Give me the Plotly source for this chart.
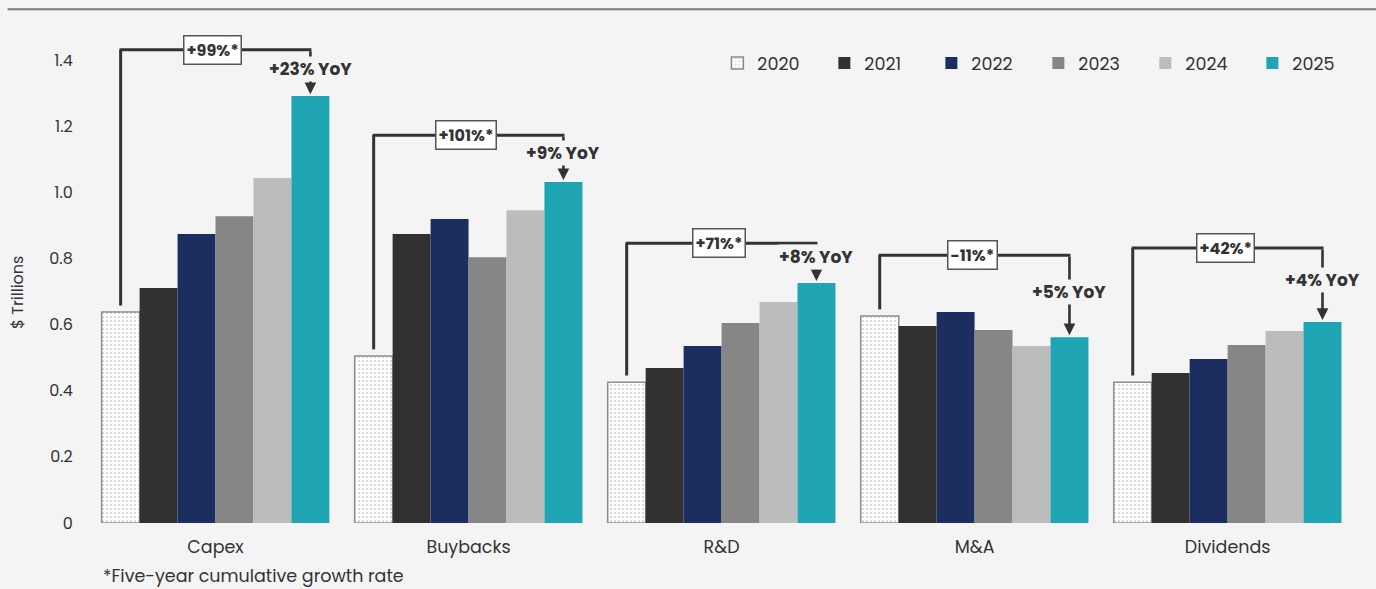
import plotly.graph_objects as go

categories = ["Capex", "Buybacks", "R&D", "M&A", "Dividends"]
years = ["2020", "2021", "2022", "2023", "2024", "2025"]
values = {
    "2020": [0.638, 0.505, 0.426, 0.626, 0.426],
    "2021": [0.711, 0.874, 0.469, 0.596, 0.454],
    "2022": [0.874, 0.919, 0.535, 0.638, 0.496],
    "2023": [0.928, 0.804, 0.605, 0.584, 0.538],
    "2024": [1.043, 0.946, 0.668, 0.535, 0.581],
    "2025": [1.291, 1.031, 0.726, 0.562, 0.608],
}
cumulative_labels = ["+99%*", "+101%*", "+71%*", "-11%*", "+42%*"]
yoy_labels = ["+23% YoY", "+9% YoY", "+8% YoY", "+5% YoY", "+4% YoY"]
y_ticks = [0, 0.2, 0.4, 0.6, 0.8, 1.0, 1.2, 1.4]
y_tick_text = ["0", "0.2", "0.4", "0.6", "0.8", "1.0", "1.2", "1.4"]

# styling
colors = {
    "2021": "#313131",
    "2022": "#1b2e5f",
    "2023": "#868686",
    "2024": "#bcbcbd",
    "2025": "#1fa4b4",
}
bracket_gap = [0.14, 0.142, 0.12, 0.172, 0.224]   # bracket height above tallest bar (data units)
yoy_lift = [27, 29, 26, 45, 42]                    # px lift of YoY label above 2025 bar
FONT = "Poppins, 'Open Sans', sans-serif"
TXT = "#333333"
BG = "#f4f4f4"

fig = go.Figure()
for yr in years:
    if yr == "2020":
        marker = dict(color="white",
                      pattern=dict(shape=".", fgcolor="#6e6e6e", bgcolor="white", size=4, solidity=0.15),
                      line=dict(color="#8c8c8c", width=1.5))
    else:
        marker = dict(color=colors[yr], line=dict(width=0))
    fig.add_trace(go.Bar(name=yr, x=categories, y=values[yr], marker=marker))

n = len(years)
group = 0.9
bw = group / n
x_first = -group / 2 + bw / 2
x_last = group / 2 - bw / 2

shapes = []
annotations = []
for k, cat in enumerate(categories):
    v0 = values[years[0]][k]
    vN = values[years[-1]][k]
    top = max(values[y][k] for y in years)
    by = top + bracket_gap[k]
    xl = k + x_first
    xr = k + x_last
    line = dict(color="#333333", width=3)
    shapes.append(dict(type="line", xref="x", yref="y", x0=xl, x1=xl, y0=v0 + 0.02, y1=by, line=line))
    shapes.append(dict(type="line", xref="x", yref="y", x0=xl - 0.004, x1=xr + 0.004, y0=by, y1=by, line=line))
    # right vertical with arrow down to 2025 bar
    annotations.append(dict(x=xr, y=vN + 0.006, xref="x", yref="y", ax=xr, ay=by, axref="x", ayref="y",
                            text="", showarrow=True, arrowhead=2, arrowsize=0.9, arrowwidth=2.6,
                            arrowcolor="#333333"))
    annotations.append(dict(x=xr, y=vN, xref="x", yref="y", yshift=yoy_lift[k], text=yoy_labels[k],
                            showarrow=False, bgcolor=BG, borderpad=0,
                            font=dict(family=FONT, size=17, color=TXT, weight=700)))
    annotations.append(dict(x=(xl + xr) / 2 - 0.01, y=by, xref="x", yref="y", text=cumulative_labels[k],
                            showarrow=False, bgcolor="white", bordercolor="#555555", borderwidth=1.5,
                            borderpad=2, font=dict(family=FONT, size=16, color=TXT, weight=700)))

# top rule
shapes.append(dict(type="line", xref="paper", yref="paper", x0=-0.064, x1=1.02, y0=1.036, y1=1.036,
                   line=dict(color="#7a7a7a", width=2)))
# y-axis title
annotations.append(dict(x=0, y=0.5, xref="paper", yref="paper", xshift=-72, yshift=-18, xanchor="center",
                        yanchor="middle", text="$ Trillions", textangle=-90, showarrow=False,
                        font=dict(family=FONT, size=16, color=TXT)))
# footnote
annotations.append(dict(x=0, y=0, xref="paper", yref="paper", xshift=12, yshift=-53, xanchor="left",
                        yanchor="middle", text="*Five-year cumulative growth rate", showarrow=False,
                        font=dict(family=FONT, size=17.5, color=TXT)))

fig.update_layout(
    width=1376, height=589,
    margin=dict(l=89, r=15, t=27, b=66),
    paper_bgcolor=BG, plot_bgcolor=BG,
    barmode="group", bargap=0.1, bargroupgap=0,
    font=dict(family=FONT, color=TXT),
    showlegend=True,
    legend=dict(orientation="h", x=0.494, y=0.927, xanchor="left", yanchor="middle",
                entrywidth=62, entrywidthmode="pixels", bgcolor="rgba(0,0,0,0)",
                font=dict(family=FONT, size=17.5, color=TXT), traceorder="normal"),
    xaxis=dict(showgrid=False, showline=False, zeroline=False, ticks="outside", ticklen=8,
               tickcolor="rgba(0,0,0,0)", tickfont=dict(family=FONT, size=17.5, color=TXT)),
    yaxis=dict(range=[0, 1.5], tickvals=y_ticks, ticktext=y_tick_text, showgrid=False, showline=False,
               zeroline=False, ticks="outside", ticklen=12, tickcolor="rgba(0,0,0,0)",
               tickfont=dict(family=FONT, size=16, color=TXT)),
    shapes=shapes,
    annotations=annotations,
)

fig.write_html("out.html", config={"displayModeBar": False},
               post_script="document.body.style.margin='0';document.body.style.overflow='hidden';")
